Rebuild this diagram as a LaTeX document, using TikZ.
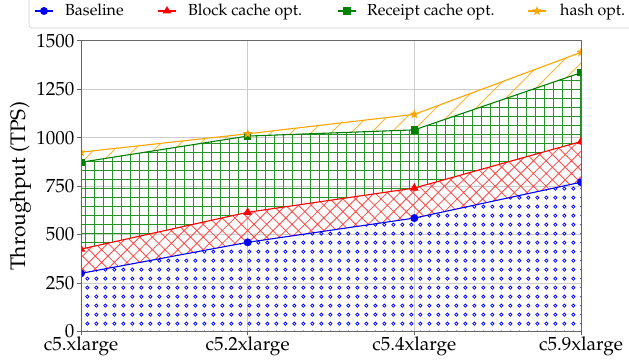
\documentclass[tikz,border=0pt]{standalone}
\usepackage[T1]{fontenc}
\usepackage{mathpazo}
\usetikzlibrary{patterns,shapes.geometric}
\definecolor{myorange}{RGB}{255,165,0}
\definecolor{mygreen}{RGB}{0,128,0}
\pgfdeclarepatternformonly{bdots}{\pgfqpoint{0pt}{0pt}}{\pgfqpoint{9.3pt}{9.3pt}}{\pgfqpoint{9.3pt}{9.3pt}}{%
  \pgfsetlinewidth{0.85pt}%
  \pgfpathcircle{\pgfqpoint{4.65pt}{4.65pt}}{1.7pt}%
  \pgfusepath{stroke}}
\pgfdeclarepatternformonly{rxhatch}{\pgfqpoint{-1pt}{-1pt}}{\pgfqpoint{13.7pt}{13.7pt}}{\pgfqpoint{12.7pt}{12.7pt}}{%
  \pgfsetlinewidth{0.8pt}%
  \pgfpathmoveto{\pgfqpoint{-0.5pt}{-0.5pt}}\pgfpathlineto{\pgfqpoint{13.2pt}{13.2pt}}%
  \pgfpathmoveto{\pgfqpoint{-0.5pt}{13.2pt}}\pgfpathlineto{\pgfqpoint{13.2pt}{-0.5pt}}%
  \pgfusepath{stroke}}
\pgfdeclarepatternformonly{ggrid}{\pgfqpoint{-1pt}{-1pt}}{\pgfqpoint{10pt}{10pt}}{\pgfqpoint{9pt}{9pt}}{%
  \pgfsetlinewidth{0.9pt}%
  \pgfpathmoveto{\pgfqpoint{4.5pt}{-0.5pt}}\pgfpathlineto{\pgfqpoint{4.5pt}{9.5pt}}%
  \pgfpathmoveto{\pgfqpoint{-0.5pt}{4.5pt}}\pgfpathlineto{\pgfqpoint{9.5pt}{4.5pt}}%
  \pgfusepath{stroke}}
\pgfdeclarepatternformonly{oneline}{\pgfqpoint{-1pt}{-1pt}}{\pgfqpoint{21pt}{21pt}}{\pgfqpoint{20pt}{20pt}}{%
  \pgfsetlinewidth{0.8pt}%
  \pgfpathmoveto{\pgfqpoint{-0.5pt}{-0.5pt}}\pgfpathlineto{\pgfqpoint{20.5pt}{20.5pt}}%
  \pgfusepath{stroke}}
\tikzset{
  ticklab/.style={font=\fontsize{19}{22}\selectfont, text=black, inner sep=0pt},
  leglab/.style={font=\fontsize{16}{19}\selectfont, anchor=base west, inner sep=0pt},
  series/.style={line width=1.1pt},
  mcirc/.style={circle, fill=#1, inner sep=0pt, minimum size=8pt},
  mtri/.style={regular polygon, regular polygon sides=3, fill=#1, inner sep=0pt, minimum size=10pt},
  msq/.style={rectangle, fill=#1, inner sep=0pt, minimum size=7.5pt},
  mstar/.style={star, star points=5, star point ratio=2.4, fill=#1, inner sep=0pt, minimum size=10pt},
}
\begin{document}
\begin{tikzpicture}[x=1pt,y=1pt]
\clip (0,0) rectangle (629,364);
\fill[white] (0,0) rectangle (629,364);
% legend
\draw[black!18, line width=0.7pt, rounded corners=3pt, fill=white] (29,336) rectangle (645,380);
\draw[blue, series] (35,353) -- (53,353);
\node[mcirc=blue] (lb) at (44,353) {};
\node[leglab] (tb) at (65,348) {Baseline};
\draw[red, series] (158,353) -- (176,353);
\node[mtri=red] (lr) at (167,353) {};
\node[leglab] (tr) at (188,348) {Block cache opt.};
\draw[mygreen, series] (338,353) -- (356,353);
\node[msq=mygreen] (lg) at (347,353) {};
\node[leglab] (tg) at (367,348) {Receipt cache opt.};
\draw[myorange, series] (528,353) -- (546,353);
\node[mstar=myorange] (lo) at (537,353) {};
\node[leglab] (to) at (560,348) {hash opt.};
% y label
\node[rotate=90, anchor=base, font=\fontsize{21}{24}\selectfont, inner sep=0pt] (ylab) at (25,177.5) {Throughput (TPS)};
\begin{scope}[shift={(81,32.5)}, x=166.67pt, y=0.19387pt]
  % grid
  \foreach \v in {250,500,...,1250} \draw[black!20, line width=0.6pt] (0,\v) -- (3,\v);
  \foreach \i in {1,2} \draw[black!20, line width=0.6pt] (\i,0) -- (\i,1500);
  % fills
  \fill[pattern=bdots, pattern color=blue] (0,0) -- (0,300) -- (1,460) -- (2,585) -- (3,770) -- (3,0) -- cycle;
  \fill[pattern=rxhatch, pattern color=red!70] (0,300) -- (1,460) -- (2,585) -- (3,770) -- (3,980) -- (2,740) -- (1,615) -- (0,425) -- cycle;
  \fill[pattern=ggrid, pattern color=mygreen!85] (0,425) -- (1,615) -- (2,740) -- (3,980) -- (3,1335) -- (2,1040) -- (1,1008) -- (0,873) -- cycle;
  \fill[pattern=oneline, pattern color=myorange!80] (0,873) -- (1,1008) -- (2,1040) -- (3,1335) -- (3,1440) -- (2,1120) -- (1,1020) -- (0,925) -- cycle;
  \begin{scope}
    \clip (0,0) rectangle (3,1500);
    \draw[blue, series] (0,300) -- (1,460) -- (2,585) -- (3,770);
    \draw[red, series] (0,425) -- (1,615) -- (2,740) -- (3,980);
    \draw[mygreen, series] (0,873) -- (1,1008) -- (2,1040) -- (3,1335);
    \draw[myorange, series] (0,925) -- (1,1020) -- (2,1120) -- (3,1440);
    \foreach \i/\a/\b/\c/\d in {0/300/425/873/925, 1/460/615/1008/1020, 2/585/740/1040/1120, 3/770/980/1335/1440} {
      \node[mcirc=blue] (p\i a) at (\i,\a) {};
      \node[mtri=red] (p\i b) at (\i,\b) {};
      \node[msq=mygreen] (p\i c) at (\i,\c) {};
      \node[mstar=myorange] (p\i d) at (\i,\d) {};
    }
  \end{scope}
  % frame
  \draw[black!60, line width=0.8pt] (0,0) rectangle (3,1500);
  % ticks
  \foreach \v in {0,250,500,...,1500} {
    \draw[black!60, line width=0.6pt] ([xshift=-4pt]0,\v) -- (0,\v);
    \node[ticklab, anchor=east] (yt\v) at ([xshift=-6.5pt]0,\v) {\v};
  }
  \foreach \i/\t in {0/c5.xlarge,1/c5.2xlarge,2/c5.4xlarge,3/c5.9xlarge} {
    \draw[black!60, line width=0.6pt] ([yshift=-4pt]\i,0) -- (\i,0);
    \node[ticklab, anchor=base] (xt\i) at ([yshift=-19.2pt]\i,0) {\t};
  }
\end{scope}
\end{tikzpicture}
\end{document}
